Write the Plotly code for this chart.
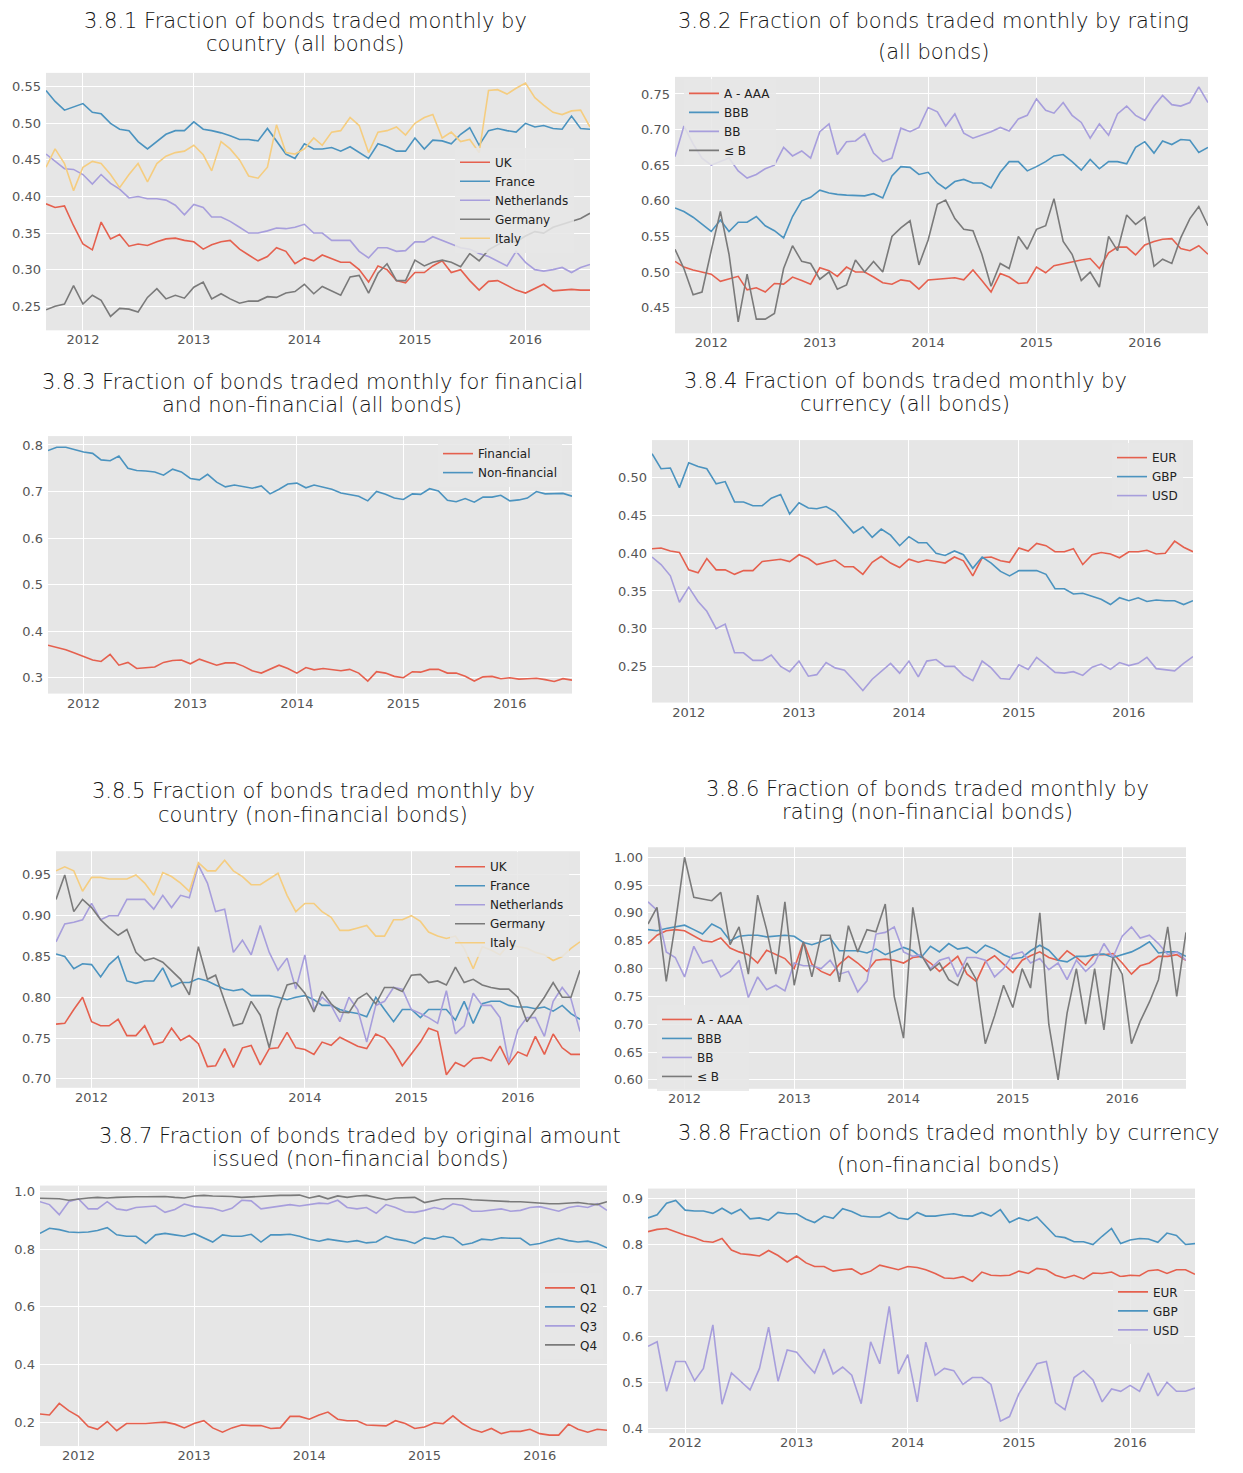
import pandas as pd
import plotly.graph_objects as go

# the page has an 8px body margin, so the figure is a bit smaller than the window
PAGE_W, PAGE_H = 1243, 1473
OFF = 8
W, H = PAGE_W - 2 * OFF, PAGE_H - 2 * OFF

months = pd.date_range("2011-09-01", periods=60, freq="MS")
year_labels = ["2012", "2013", "2014", "2015", "2016"]

RED = "#E5604E"
BLUE = "#4B93BF"
PURPLE = "#A79EDC"
GRAY = "#7A7A7A"
YELLOW = "#F5CD80"

# 3.8.1 by country (all bonds)
uk_all = [0.390, 0.385, 0.387, 0.360, 0.335, 0.327, 0.365, 0.342, 0.348, 0.332, 0.335, 0.333,
          0.338, 0.342, 0.343, 0.340, 0.338, 0.328, 0.334, 0.338, 0.340, 0.328, 0.320, 0.312,
          0.318, 0.330, 0.325, 0.308, 0.316, 0.312, 0.320, 0.315, 0.310, 0.310, 0.300, 0.283,
          0.305, 0.300, 0.285, 0.282, 0.296, 0.296, 0.305, 0.312, 0.296, 0.300, 0.285, 0.272,
          0.284, 0.285, 0.278, 0.272, 0.268, 0.274, 0.280, 0.271, 0.272, 0.273, 0.272, 0.272]
france_all = [0.545, 0.530, 0.518, 0.522, 0.527, 0.515, 0.513, 0.500, 0.492, 0.490, 0.475, 0.465,
              0.475, 0.485, 0.490, 0.490, 0.502, 0.492, 0.490, 0.487, 0.483, 0.478, 0.478, 0.476,
              0.493, 0.475, 0.458, 0.452, 0.472, 0.465, 0.465, 0.467, 0.462, 0.468, 0.460, 0.452,
              0.472, 0.468, 0.462, 0.462, 0.480, 0.465, 0.477, 0.476, 0.472, 0.485, 0.494, 0.470,
              0.490, 0.493, 0.490, 0.488, 0.500, 0.495, 0.497, 0.493, 0.492, 0.510, 0.493, 0.492]
netherlands_all = [0.458, 0.448, 0.438, 0.437, 0.430, 0.417, 0.430, 0.418, 0.410, 0.398, 0.400, 0.397,
                   0.397, 0.395, 0.388, 0.375, 0.389, 0.385, 0.372, 0.372, 0.366, 0.358, 0.350, 0.350,
                   0.353, 0.357, 0.356, 0.358, 0.362, 0.350, 0.350, 0.340, 0.340, 0.340, 0.325, 0.316,
                   0.330, 0.330, 0.325, 0.326, 0.338, 0.338, 0.345, 0.340, 0.335, 0.330, 0.328, 0.322,
                   0.318, 0.312, 0.305, 0.325, 0.310, 0.300, 0.298, 0.300, 0.303, 0.296, 0.303, 0.307]
germany_all = [0.245, 0.250, 0.253, 0.278, 0.253, 0.265, 0.258, 0.236, 0.247, 0.246, 0.242, 0.262,
               0.274, 0.260, 0.265, 0.261, 0.276, 0.283, 0.260, 0.267, 0.260, 0.254, 0.257, 0.257,
               0.263, 0.262, 0.268, 0.270, 0.280, 0.267, 0.277, 0.271, 0.265, 0.290, 0.292, 0.268,
               0.295, 0.308, 0.285, 0.285, 0.313, 0.305, 0.310, 0.313, 0.310, 0.304, 0.322, 0.312,
               0.327, 0.334, 0.340, 0.338, 0.346, 0.352, 0.350, 0.358, 0.362, 0.366, 0.370, 0.377]
italy_all = [0.440, 0.465, 0.445, 0.408, 0.440, 0.448, 0.445, 0.430, 0.412, 0.430, 0.445, 0.420,
             0.445, 0.455, 0.460, 0.462, 0.470, 0.457, 0.435, 0.475, 0.465, 0.450, 0.428, 0.425,
             0.440, 0.498, 0.460, 0.458, 0.465, 0.480, 0.470, 0.488, 0.490, 0.508, 0.497, 0.460,
             0.488, 0.490, 0.495, 0.484, 0.500, 0.508, 0.512, 0.480, 0.488, 0.475, 0.478, 0.460,
             0.545, 0.546, 0.540, 0.548, 0.555, 0.535, 0.525, 0.515, 0.512, 0.517, 0.518, 0.495]

# 3.8.2 by rating (all bonds)
a_aaa_all = [0.515, 0.507, 0.503, 0.500, 0.497, 0.487, 0.490, 0.494, 0.475, 0.478, 0.472, 0.484,
             0.483, 0.493, 0.488, 0.483, 0.506, 0.502, 0.494, 0.507, 0.500, 0.500, 0.493, 0.485,
             0.483, 0.489, 0.487, 0.476, 0.489, 0.490, 0.491, 0.492, 0.489, 0.503, 0.488, 0.472,
             0.498, 0.493, 0.484, 0.485, 0.507, 0.499, 0.509, 0.512, 0.515, 0.517, 0.519, 0.505,
             0.527, 0.535, 0.535, 0.524, 0.538, 0.543, 0.546, 0.547, 0.533, 0.530, 0.537, 0.525]
bbb_all = [0.590, 0.585, 0.577, 0.567, 0.557, 0.573, 0.557, 0.570, 0.570, 0.578, 0.565, 0.558,
           0.548, 0.578, 0.600, 0.605, 0.615, 0.611, 0.609, 0.608, 0.607, 0.607, 0.610, 0.604,
           0.635, 0.648, 0.647, 0.637, 0.640, 0.625, 0.617, 0.627, 0.630, 0.625, 0.625, 0.618,
           0.640, 0.655, 0.655, 0.642, 0.648, 0.655, 0.663, 0.665, 0.655, 0.643, 0.658, 0.645,
           0.655, 0.655, 0.652, 0.675, 0.683, 0.667, 0.684, 0.679, 0.686, 0.685, 0.668, 0.675]
bb_all = [0.662, 0.705, 0.680, 0.660, 0.650, 0.655, 0.660, 0.642, 0.632, 0.637, 0.645, 0.650,
          0.675, 0.663, 0.670, 0.660, 0.697, 0.708, 0.665, 0.683, 0.684, 0.694, 0.667, 0.655,
          0.660, 0.702, 0.697, 0.703, 0.731, 0.725, 0.705, 0.722, 0.695, 0.688, 0.692, 0.697,
          0.703, 0.698, 0.715, 0.720, 0.743, 0.727, 0.723, 0.738, 0.720, 0.710, 0.688, 0.708,
          0.692, 0.722, 0.733, 0.720, 0.713, 0.733, 0.748, 0.735, 0.733, 0.738, 0.760, 0.738]
b_below_all = [0.532, 0.505, 0.468, 0.472, 0.530, 0.585, 0.525, 0.430, 0.497, 0.434, 0.434, 0.442,
               0.505, 0.537, 0.515, 0.512, 0.490, 0.500, 0.476, 0.482, 0.517, 0.500, 0.515, 0.500,
               0.550, 0.562, 0.572, 0.510, 0.545, 0.595, 0.601, 0.575, 0.560, 0.558, 0.525, 0.480,
               0.512, 0.505, 0.550, 0.532, 0.560, 0.565, 0.603, 0.543, 0.525, 0.488, 0.500, 0.479,
               0.550, 0.530, 0.580, 0.567, 0.577, 0.508, 0.518, 0.512, 0.548, 0.575, 0.592, 0.565]

# 3.8.3 financial vs non-financial (all bonds)
financial = [0.370, 0.365, 0.360, 0.353, 0.345, 0.338, 0.335, 0.350, 0.327, 0.333, 0.320, 0.322,
             0.323, 0.333, 0.337, 0.338, 0.330, 0.340, 0.333, 0.327, 0.332, 0.332, 0.325, 0.315,
             0.310, 0.318, 0.327, 0.320, 0.310, 0.322, 0.317, 0.320, 0.318, 0.315, 0.318, 0.310,
             0.293, 0.313, 0.310, 0.303, 0.300, 0.313, 0.312, 0.318, 0.318, 0.310, 0.310, 0.303,
             0.293, 0.302, 0.303, 0.298, 0.300, 0.297, 0.298, 0.299, 0.296, 0.292, 0.298, 0.295]
non_financial = [0.788, 0.795, 0.795, 0.790, 0.785, 0.782, 0.768, 0.766, 0.776, 0.750, 0.745, 0.744,
                 0.742, 0.735, 0.748, 0.742, 0.728, 0.725, 0.737, 0.720, 0.710, 0.714, 0.710, 0.707,
                 0.712, 0.695, 0.705, 0.716, 0.718, 0.708, 0.714, 0.710, 0.705, 0.697, 0.693, 0.690,
                 0.680, 0.700, 0.694, 0.686, 0.683, 0.695, 0.694, 0.706, 0.701, 0.681, 0.678, 0.685,
                 0.677, 0.688, 0.688, 0.692, 0.680, 0.682, 0.686, 0.700, 0.695, 0.695, 0.696, 0.690]

# 3.8.4 by currency (all bonds)
eur_all = [0.406, 0.407, 0.403, 0.401, 0.378, 0.374, 0.393, 0.378, 0.378, 0.372, 0.377, 0.377,
           0.389, 0.390, 0.392, 0.389, 0.398, 0.393, 0.385, 0.388, 0.391, 0.382, 0.382, 0.372,
           0.388, 0.396, 0.387, 0.381, 0.392, 0.388, 0.391, 0.389, 0.387, 0.395, 0.390, 0.370,
           0.394, 0.395, 0.390, 0.388, 0.407, 0.403, 0.413, 0.410, 0.402, 0.402, 0.406, 0.385,
           0.398, 0.401, 0.399, 0.394, 0.402, 0.402, 0.404, 0.399, 0.400, 0.416, 0.408, 0.402]
gbp_all = [0.532, 0.512, 0.513, 0.487, 0.520, 0.515, 0.512, 0.492, 0.495, 0.468, 0.468, 0.463,
           0.463, 0.473, 0.478, 0.452, 0.467, 0.460, 0.459, 0.462, 0.455, 0.440, 0.427, 0.435,
           0.421, 0.432, 0.424, 0.410, 0.422, 0.414, 0.414, 0.400, 0.397, 0.403, 0.398, 0.380,
           0.395, 0.387, 0.376, 0.370, 0.377, 0.377, 0.377, 0.372, 0.353, 0.353, 0.346, 0.347,
           0.343, 0.339, 0.332, 0.341, 0.337, 0.341, 0.336, 0.338, 0.337, 0.337, 0.332, 0.337]
usd_all = [0.395, 0.385, 0.370, 0.335, 0.355, 0.336, 0.323, 0.300, 0.306, 0.268, 0.268, 0.258,
           0.258, 0.265, 0.250, 0.243, 0.257, 0.237, 0.239, 0.255, 0.248, 0.245, 0.232, 0.218,
           0.233, 0.243, 0.254, 0.241, 0.257, 0.236, 0.257, 0.259, 0.250, 0.250, 0.238, 0.231,
           0.257, 0.248, 0.234, 0.233, 0.252, 0.246, 0.262, 0.252, 0.242, 0.241, 0.243, 0.238,
           0.249, 0.253, 0.246, 0.255, 0.251, 0.254, 0.262, 0.247, 0.246, 0.244, 0.254, 0.263]

# 3.8.5 by country (non-financial bonds)
uk_nf = [0.767, 0.768, 0.785, 0.800, 0.770, 0.765, 0.765, 0.773, 0.753, 0.753, 0.765, 0.742,
         0.745, 0.762, 0.747, 0.753, 0.743, 0.715, 0.716, 0.737, 0.714, 0.738, 0.741, 0.717,
         0.737, 0.738, 0.757, 0.738, 0.736, 0.730, 0.745, 0.741, 0.751, 0.745, 0.740, 0.737,
         0.755, 0.750, 0.735, 0.716, 0.730, 0.745, 0.762, 0.758, 0.705, 0.720, 0.715, 0.725,
         0.726, 0.722, 0.740, 0.718, 0.733, 0.728, 0.752, 0.730, 0.755, 0.738, 0.730, 0.730]
france_nf = [0.853, 0.850, 0.835, 0.841, 0.840, 0.825, 0.840, 0.850, 0.820, 0.817, 0.820, 0.820,
             0.836, 0.813, 0.818, 0.818, 0.823, 0.820, 0.815, 0.810, 0.808, 0.810, 0.802, 0.802,
             0.802, 0.800, 0.797, 0.800, 0.802, 0.797, 0.790, 0.790, 0.785, 0.782, 0.780, 0.776,
             0.800, 0.785, 0.770, 0.785, 0.785, 0.775, 0.785, 0.785, 0.785, 0.772, 0.795, 0.768,
             0.792, 0.795, 0.795, 0.790, 0.788, 0.788, 0.786, 0.788, 0.783, 0.790, 0.780, 0.773]
netherlands_nf = [0.868, 0.890, 0.892, 0.895, 0.915, 0.895, 0.900, 0.900, 0.920, 0.920, 0.920, 0.908,
                  0.925, 0.910, 0.925, 0.922, 0.962, 0.940, 0.905, 0.908, 0.855, 0.870, 0.852, 0.888,
                  0.855, 0.833, 0.848, 0.810, 0.852, 0.785, 0.800, 0.790, 0.770, 0.800, 0.785, 0.745,
                  0.790, 0.795, 0.812, 0.810, 0.785, 0.780, 0.775, 0.768, 0.808, 0.755, 0.765, 0.805,
                  0.790, 0.790, 0.775, 0.720, 0.760, 0.775, 0.775, 0.752, 0.795, 0.812, 0.798, 0.758]
germany_nf = [0.920, 0.950, 0.905, 0.920, 0.910, 0.895, 0.885, 0.876, 0.883, 0.855, 0.845, 0.848,
              0.843, 0.833, 0.822, 0.803, 0.862, 0.822, 0.827, 0.795, 0.765, 0.768, 0.795, 0.778,
              0.738, 0.785, 0.815, 0.818, 0.805, 0.782, 0.807, 0.792, 0.782, 0.781, 0.798, 0.805,
              0.792, 0.812, 0.812, 0.807, 0.827, 0.828, 0.818, 0.820, 0.815, 0.837, 0.818, 0.822,
              0.815, 0.812, 0.810, 0.810, 0.800, 0.770, 0.784, 0.800, 0.818, 0.800, 0.800, 0.833]
italy_nf = [0.955, 0.960, 0.955, 0.930, 0.947, 0.947, 0.945, 0.945, 0.945, 0.950, 0.940, 0.925,
            0.953, 0.948, 0.940, 0.930, 0.965, 0.955, 0.955, 0.968, 0.955, 0.948, 0.938, 0.938,
            0.945, 0.952, 0.925, 0.905, 0.915, 0.915, 0.905, 0.898, 0.882, 0.882, 0.885, 0.888,
            0.875, 0.875, 0.895, 0.895, 0.900, 0.893, 0.880, 0.875, 0.872, 0.875, 0.860, 0.835,
            0.862, 0.858, 0.852, 0.865, 0.862, 0.860, 0.855, 0.852, 0.845, 0.850, 0.860, 0.868]

# 3.8.6 by rating (non-financial bonds)
a_aaa_nf = [0.845, 0.860, 0.868, 0.870, 0.868, 0.858, 0.850, 0.848, 0.855, 0.837, 0.830, 0.825,
            0.810, 0.833, 0.825, 0.818, 0.800, 0.848, 0.808, 0.795, 0.788, 0.808, 0.822, 0.810,
            0.795, 0.815, 0.817, 0.815, 0.810, 0.820, 0.822, 0.810, 0.795, 0.808, 0.822, 0.790,
            0.777, 0.812, 0.823, 0.808, 0.793, 0.815, 0.823, 0.830, 0.820, 0.815, 0.832, 0.820,
            0.806, 0.825, 0.825, 0.827, 0.810, 0.790, 0.805, 0.810, 0.822, 0.822, 0.825, 0.815]
bbb_nf = [0.870, 0.868, 0.872, 0.875, 0.878, 0.870, 0.862, 0.880, 0.872, 0.850, 0.858, 0.860,
          0.860, 0.857, 0.858, 0.860, 0.858, 0.847, 0.843, 0.848, 0.855, 0.832, 0.832, 0.832,
          0.828, 0.835, 0.825, 0.832, 0.838, 0.832, 0.820, 0.840, 0.830, 0.845, 0.835, 0.838,
          0.828, 0.842, 0.835, 0.825, 0.818, 0.820, 0.832, 0.842, 0.833, 0.815, 0.812, 0.822,
          0.822, 0.825, 0.826, 0.820, 0.825, 0.830, 0.838, 0.848, 0.828, 0.830, 0.830, 0.822]
bb_nf = [0.920, 0.905, 0.830, 0.820, 0.785, 0.840, 0.810, 0.815, 0.785, 0.795, 0.815, 0.748,
         0.785, 0.762, 0.770, 0.760, 0.810, 0.805, 0.805, 0.800, 0.815, 0.790, 0.795, 0.758,
         0.778, 0.862, 0.865, 0.875, 0.830, 0.822, 0.825, 0.800, 0.815, 0.820, 0.785, 0.820,
         0.820, 0.815, 0.785, 0.800, 0.825, 0.830, 0.810, 0.818, 0.798, 0.810, 0.780, 0.815,
         0.795, 0.810, 0.845, 0.820, 0.858, 0.875, 0.855, 0.860, 0.845, 0.825, 0.830, 0.815]
b_below_nf = [0.880, 0.910, 0.777, 0.880, 1.000, 0.928, 0.925, 0.922, 0.937, 0.843, 0.875, 0.790,
              0.932, 0.870, 0.790, 0.920, 0.770, 0.848, 0.785, 0.860, 0.860, 0.776, 0.877, 0.830,
              0.870, 0.866, 0.916, 0.750, 0.675, 0.910, 0.825, 0.797, 0.810, 0.780, 0.770, 0.810,
              0.780, 0.665, 0.715, 0.770, 0.730, 0.800, 0.765, 0.900, 0.700, 0.600, 0.720, 0.800,
              0.700, 0.800, 0.690, 0.820, 0.790, 0.665, 0.705, 0.740, 0.780, 0.875, 0.750, 0.865]

# 3.8.7 by original amount issued (non-financial bonds)
q1 = [0.228, 0.225, 0.265, 0.240, 0.220, 0.185, 0.175, 0.202, 0.170, 0.195, 0.195, 0.195,
      0.198, 0.200, 0.193, 0.180, 0.195, 0.205, 0.180, 0.165, 0.180, 0.190, 0.188, 0.188,
      0.178, 0.180, 0.220, 0.220, 0.210, 0.225, 0.235, 0.210, 0.205, 0.205, 0.190, 0.188,
      0.187, 0.205, 0.195, 0.178, 0.183, 0.198, 0.195, 0.222, 0.195, 0.175, 0.165, 0.178,
      0.160, 0.168, 0.168, 0.175, 0.160, 0.155, 0.155, 0.193, 0.175, 0.165, 0.175, 0.172]
q2 = [0.855, 0.873, 0.868, 0.860, 0.858, 0.860, 0.865, 0.875, 0.850, 0.845, 0.845, 0.820,
      0.850, 0.855, 0.850, 0.845, 0.855, 0.840, 0.825, 0.850, 0.845, 0.845, 0.852, 0.825,
      0.850, 0.850, 0.852, 0.845, 0.835, 0.828, 0.835, 0.830, 0.825, 0.830, 0.822, 0.825,
      0.845, 0.835, 0.830, 0.820, 0.840, 0.835, 0.845, 0.840, 0.815, 0.822, 0.835, 0.832,
      0.840, 0.838, 0.838, 0.815, 0.820, 0.830, 0.838, 0.830, 0.825, 0.828, 0.820, 0.805]
q3 = [0.965, 0.955, 0.920, 0.965, 0.975, 0.940, 0.940, 0.965, 0.940, 0.935, 0.945, 0.948,
      0.950, 0.928, 0.938, 0.957, 0.948, 0.945, 0.942, 0.932, 0.942, 0.970, 0.968, 0.940,
      0.945, 0.950, 0.955, 0.950, 0.955, 0.960, 0.958, 0.970, 0.945, 0.940, 0.945, 0.925,
      0.955, 0.945, 0.930, 0.928, 0.935, 0.945, 0.938, 0.958, 0.952, 0.932, 0.932, 0.935,
      0.940, 0.932, 0.935, 0.945, 0.948, 0.940, 0.932, 0.945, 0.950, 0.945, 0.958, 0.935]
q4 = [0.977, 0.977, 0.975, 0.970, 0.975, 0.978, 0.980, 0.978, 0.980, 0.982, 0.982, 0.982,
      0.983, 0.983, 0.980, 0.978, 0.985, 0.987, 0.985, 0.985, 0.983, 0.980, 0.982, 0.985,
      0.985, 0.987, 0.987, 0.988, 0.978, 0.985, 0.975, 0.985, 0.980, 0.985, 0.987, 0.980,
      0.972, 0.978, 0.978, 0.980, 0.962, 0.970, 0.975, 0.975, 0.975, 0.972, 0.970, 0.968,
      0.965, 0.965, 0.965, 0.962, 0.960, 0.958, 0.958, 0.960, 0.962, 0.958, 0.955, 0.965]

# 3.8.8 by currency (non-financial bonds)
eur_nf = [0.828, 0.833, 0.835, 0.827, 0.820, 0.815, 0.807, 0.805, 0.813, 0.788, 0.780, 0.778,
          0.775, 0.787, 0.776, 0.762, 0.775, 0.760, 0.752, 0.752, 0.742, 0.745, 0.747, 0.735,
          0.742, 0.755, 0.750, 0.745, 0.752, 0.750, 0.745, 0.737, 0.727, 0.726, 0.730, 0.720,
          0.740, 0.733, 0.732, 0.733, 0.742, 0.737, 0.748, 0.745, 0.733, 0.727, 0.733, 0.725,
          0.738, 0.737, 0.740, 0.730, 0.733, 0.732, 0.743, 0.745, 0.737, 0.745, 0.745, 0.735]
gbp_nf = [0.858, 0.865, 0.890, 0.896, 0.875, 0.873, 0.873, 0.868, 0.879, 0.867, 0.877, 0.856,
          0.858, 0.853, 0.870, 0.867, 0.867, 0.855, 0.848, 0.862, 0.857, 0.878, 0.872, 0.862,
          0.860, 0.860, 0.870, 0.858, 0.855, 0.870, 0.862, 0.862, 0.865, 0.867, 0.863, 0.862,
          0.870, 0.862, 0.876, 0.848, 0.858, 0.852, 0.860, 0.838, 0.818, 0.815, 0.806, 0.806,
          0.800, 0.818, 0.835, 0.802, 0.810, 0.813, 0.812, 0.805, 0.825, 0.820, 0.800, 0.802]
usd_nf = [0.578, 0.588, 0.480, 0.545, 0.545, 0.503, 0.530, 0.625, 0.452, 0.520, 0.502, 0.483,
          0.530, 0.620, 0.502, 0.570, 0.565, 0.540, 0.520, 0.572, 0.518, 0.533, 0.515, 0.453,
          0.588, 0.540, 0.665, 0.518, 0.560, 0.457, 0.587, 0.515, 0.530, 0.525, 0.495, 0.510,
          0.510, 0.495, 0.415, 0.425, 0.475, 0.510, 0.540, 0.545, 0.455, 0.440, 0.510, 0.525,
          0.505, 0.457, 0.485, 0.480, 0.493, 0.480, 0.520, 0.470, 0.500, 0.480, 0.480, 0.487]


def px_x(x):
    return (x - OFF) / W


def px_y(y):
    return 1 - (y - OFF) / H


# box = (left, top, right, bottom) in page pixels; legend = (left, top) in page pixels
panels = [
    dict(title=["3.8.1 Fraction of bonds traded monthly by", "country (all bonds)"],
         title_xy=(305, 20, 43), box=(46, 72, 590, 330), yrange=[0.217, 0.569],
         yticks=[0.25, 0.30, 0.35, 0.40, 0.45, 0.50, 0.55], yfmt=".2f", legend=(455, 147),
         series=[("UK", uk_all, RED), ("France", france_all, BLUE),
                 ("Netherlands", netherlands_all, PURPLE), ("Germany", germany_all, GRAY),
                 ("Italy", italy_all, YELLOW)]),
    dict(title=["3.8.2 Fraction of bonds traded monthly by rating", "(all bonds)"],
         title_xy=(933, 20, 51), box=(675, 76, 1208, 333), yrange=[0.414, 0.774],
         yticks=[0.45, 0.50, 0.55, 0.60, 0.65, 0.70, 0.75], yfmt=".2f", legend=(684, 78),
         series=[("A - AAA", a_aaa_all, RED), ("BBB", bbb_all, BLUE),
                 ("BB", bb_all, PURPLE), ("\u2264 B", b_below_all, GRAY)]),
    dict(title=["3.8.3 Fraction of bonds traded monthly for financial",
                "and non-financial (all bonds)"],
         title_xy=(312, 382, 405), box=(48, 436, 572, 694), yrange=[0.266, 0.819],
         yticks=[0.3, 0.4, 0.5, 0.6, 0.7, 0.8], yfmt=".1f", legend=(438, 439),
         series=[("Financial", financial, RED), ("Non-financial", non_financial, BLUE)]),
    dict(title=["3.8.4 Fraction of bonds traded monthly by", "currency (all bonds)"],
         title_xy=(905, 381, 404), box=(652, 440, 1193, 703), yrange=[0.202, 0.550],
         yticks=[0.25, 0.30, 0.35, 0.40, 0.45, 0.50], yfmt=".2f", legend=(1112, 443),
         series=[("EUR", eur_all, RED), ("GBP", gbp_all, BLUE), ("USD", usd_all, PURPLE)]),
    dict(title=["3.8.5 Fraction of bonds traded monthly by", "country (non-financial bonds)"],
         title_xy=(313, 792, 816), box=(56, 852, 580, 1089), yrange=[0.689, 0.979],
         yticks=[0.70, 0.75, 0.80, 0.85, 0.90, 0.95], yfmt=".2f", legend=(450, 853),
         series=[("UK", uk_nf, RED), ("France", france_nf, BLUE),
                 ("Netherlands", netherlands_nf, PURPLE), ("Germany", germany_nf, GRAY),
                 ("Italy", italy_nf, YELLOW)]),
    dict(title=["3.8.6 Fraction of bonds traded monthly by", "rating (non-financial bonds)"],
         title_xy=(927, 790, 813), box=(648, 848, 1186, 1090), yrange=[0.584, 1.018],
         yticks=[0.60, 0.65, 0.70, 0.75, 0.80, 0.85, 0.90, 0.95, 1.00], yfmt=".2f",
         legend=(657, 1006),
         series=[("A - AAA", a_aaa_nf, RED), ("BBB", bbb_nf, BLUE),
                 ("BB", bb_nf, PURPLE), ("\u2264 B", b_below_nf, GRAY)]),
    dict(title=["3.8.7 Fraction of bonds traded by original amount",
                "issued (non-financial bonds)"],
         title_xy=(360, 1137, 1160), box=(40, 1187, 607, 1448), yrange=[0.117, 1.021],
         yticks=[0.2, 0.4, 0.6, 0.8, 1.0], yfmt=".1f", legend=(540, 1275),
         series=[("Q1", q1, RED), ("Q2", q2, BLUE), ("Q3", q3, PURPLE), ("Q4", q4, GRAY)]),
    dict(title=["3.8.8 Fraction of bonds traded monthly by currency", "(non-financial bonds)"],
         title_xy=(948, 1134, 1166), box=(648, 1190, 1195, 1435), yrange=[0.389, 0.922],
         yticks=[0.4, 0.5, 0.6, 0.7, 0.8, 0.9], yfmt=".1f", legend=(1113, 1279),
         series=[("EUR", eur_nf, RED), ("GBP", gbp_nf, BLUE), ("USD", usd_nf, PURPLE)]),
]

year_ticks = [pd.Timestamp(y + "-01-01") for y in year_labels]

fig = go.Figure()
layout = dict(
    width=W, height=H,
    margin=dict(l=0, r=0, t=0, b=0),
    paper_bgcolor="white",
    plot_bgcolor="#E6E6E6",
    showlegend=True,
    annotations=[],
    font=dict(family="DejaVu Sans", color="#555555"),
)

for n, p in enumerate(panels, start=1):
    suffix = "" if n == 1 else str(n)
    legend_name = "legend" if n == 1 else "legend" + str(n)
    left, top, right, bottom = p["box"]

    for name, values, color in p["series"]:
        fig.add_trace(go.Scatter(
            x=months, y=values, name=name, mode="lines",
            line=dict(color=color, width=1.6),
            xaxis="x" + suffix, yaxis="y" + suffix,
            legend=legend_name,
        ))

    layout["xaxis" + suffix] = dict(
        domain=[px_x(left), px_x(right)], anchor="y" + suffix,
        range=[months[0], months[-1]],
        tickvals=year_ticks, ticktext=year_labels,
        showgrid=True, gridcolor="white", gridwidth=1,
        zeroline=False, showline=False,
        ticks="", tickfont=dict(size=13, color="#555555"),
    )
    layout["yaxis" + suffix] = dict(
        domain=[px_y(bottom), px_y(top)], anchor="x" + suffix,
        range=p["yrange"], tickvals=p["yticks"], tickformat=p["yfmt"],
        showgrid=True, gridcolor="white", gridwidth=1,
        zeroline=False, showline=False, ticklabelstandoff=4,
        ticks="", tickfont=dict(size=13, color="#555555"),
    )
    lx, ly = p["legend"]
    layout[legend_name] = dict(
        x=px_x(lx), y=px_y(ly), xanchor="left", yanchor="top",
        bgcolor="rgba(230,230,230,0.85)", borderwidth=0,
        font=dict(size=12, color="#222222"),
        itemwidth=30, tracegroupgap=0,
    )

    cx, y1, y2 = p["title_xy"]
    for text, ty in zip(p["title"], (y1, y2)):
        layout["annotations"].append(dict(
            text=text, x=px_x(cx), y=px_y(ty), xref="paper", yref="paper",
            xanchor="center", yanchor="middle", showarrow=False,
            font=dict(size=21, color="#111111", family="DejaVu Sans", weight=200),
        ))

fig.update_layout(**layout)
fig.write_html("out.html")
